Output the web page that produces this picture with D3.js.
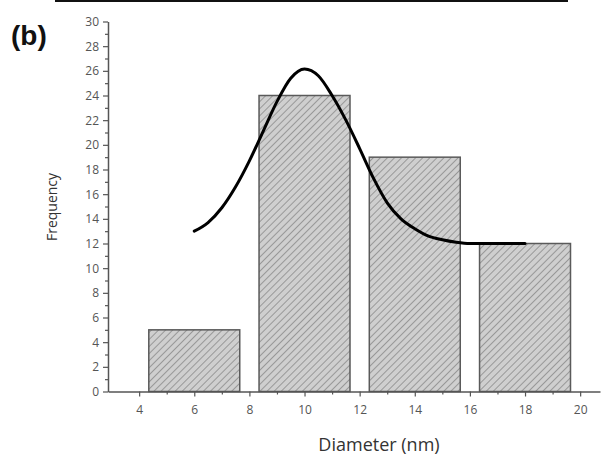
<!DOCTYPE html>
<html>
<head>
<meta charset="utf-8">
<script src="https://d3js.org/d3.v7.min.js"></script>
<style>
  body { margin: 0; background: #fff; }
  svg { display: block; font-family: "Open Sans", "DejaVu Sans", sans-serif; }
</style>
</head>
<body>
<div id="chart"></div>
<script>
// histogram bins (centre, frequency)
const binCenters = [6, 10, 14, 18];
const frequencies = [5, 24, 19, 12];
const barWidth = 3.3;   // in nm

// fitted curve
const curveX = [6.0, 6.5, 7.0, 7.5, 8.0, 8.5, 9.0, 9.5, 10.0, 10.5, 11.0, 11.5, 12.0, 12.5, 13.0, 13.5, 14.0, 14.5, 15.0, 15.5, 16.0, 17.0, 18.0];
const curveY = [13.0, 13.7, 14.9, 16.6, 18.7, 21.1, 23.5, 25.4, 26.15, 25.6, 24.0, 22.0, 19.7, 17.3, 15.3, 14.0, 13.2, 12.6, 12.3, 12.1, 12.0, 12.0, 12.0];

const xTicks = [4, 6, 8, 10, 12, 14, 16, 18, 20];
const yTicks = [0, 2, 4, 6, 8, 10, 12, 14, 16, 18, 20, 22, 24, 26, 28, 30];

const width = 601, height = 455;

const svg = d3.select('#chart')
    .append('svg')
    .attr('width', width)
    .attr('height', height);

const x = d3.scaleLinear().domain([2.87, 20.72]).range([108, 600]);
const y = d3.scaleLinear().domain([0, 30]).range([391.5, 21.5]);

// hatch pattern
const defs = svg.append('defs');
const pat = defs.append('pattern')
    .attr('id', 'hatch')
    .attr('patternUnits', 'userSpaceOnUse')
    .attr('width', 5)
    .attr('height', 5)
    .attr('patternTransform', 'rotate(45)');
pat.append('rect').attr('width', 5).attr('height', 5).attr('fill', '#cfcfcf');
pat.append('line')
    .attr('x1', 0).attr('y1', 0).attr('x2', 0).attr('y2', 5)
    .attr('stroke', '#8a8a8a')
    .attr('stroke-width', 1.6);

// cropped border line at the top
svg.append('line')
    .attr('x1', 55).attr('x2', 568)
    .attr('y1', 1).attr('y2', 1)
    .attr('stroke', '#111')
    .attr('stroke-width', 2);

// bars
svg.append('g')
    .selectAll('rect')
    .data(binCenters)
    .enter()
    .append('rect')
    .attr('x', d => x(d - barWidth / 2))
    .attr('width', d => x(d + barWidth / 2) - x(d - barWidth / 2))
    .attr('y', (d, i) => y(frequencies[i]))
    .attr('height', (d, i) => y(0) - y(frequencies[i]))
    .attr('fill', 'url(#hatch)')
    .attr('stroke', '#5a5a5a')
    .attr('stroke-width', 1.5);

// axes
svg.append('g')
    .attr('transform', `translate(0,${y(0)})`)
    .call(d3.axisBottom(x).tickValues(xTicks).tickSize(5).tickPadding(9).tickSizeOuter(0));
svg.append('g')
    .attr('transform', `translate(0,${y(0)})`)
    .call(d3.axisBottom(x).tickValues(d3.range(5, 21, 2)).tickSize(3).tickFormat('').tickSizeOuter(0))
    .select('.domain').remove();

svg.append('g')
    .attr('transform', `translate(${x.range()[0]},0)`)
    .call(d3.axisLeft(y).tickValues(yTicks).tickSize(5).tickPadding(4).tickSizeOuter(0));
svg.append('g')
    .attr('transform', `translate(${x.range()[0]},0)`)
    .call(d3.axisLeft(y).tickValues(d3.range(1, 30, 2)).tickSize(3).tickFormat('').tickSizeOuter(0))
    .select('.domain').remove();

svg.selectAll('.domain').attr('stroke', '#555').attr('stroke-width', 1.5);
svg.selectAll('.tick line').attr('stroke', '#555').attr('stroke-width', 1.2);
svg.selectAll('.tick text')
    .attr('fill', '#555')
    .style('font-size', '12px')
    .style('font-family', '"Open Sans", sans-serif');

// fitted curve
const pts = curveX.map((d, i) => [d, curveY[i]]);
svg.append('path')
    .datum(pts)
    .attr('fill', 'none')
    .attr('stroke', '#000')
    .attr('stroke-width', 3)
    .attr('stroke-linecap', 'round')
    .attr('d', d3.line().x(d => x(d[0])).y(d => y(d[1])).curve(d3.curveMonotoneX));

// labels
svg.append('text')
    .attr('x', 379).attr('y', 451)
    .attr('text-anchor', 'middle')
    .attr('fill', '#333')
    .style('font-size', '18px')
    .text('Diameter (nm)');

svg.append('text')
    .attr('transform', 'translate(57,207) rotate(-90)')
    .attr('text-anchor', 'middle')
    .attr('fill', '#333')
    .style('font-size', '14px')
    .text('Frequency');

svg.append('text')
    .attr('x', 11).attr('y', 45)
    .attr('fill', '#111')
    .style('font-size', '28px')
    .style('font-weight', 'bold')
    .style('font-family', '"Liberation Sans", Arial, sans-serif')
    .text('(b)');
</script>
</body>
</html>
